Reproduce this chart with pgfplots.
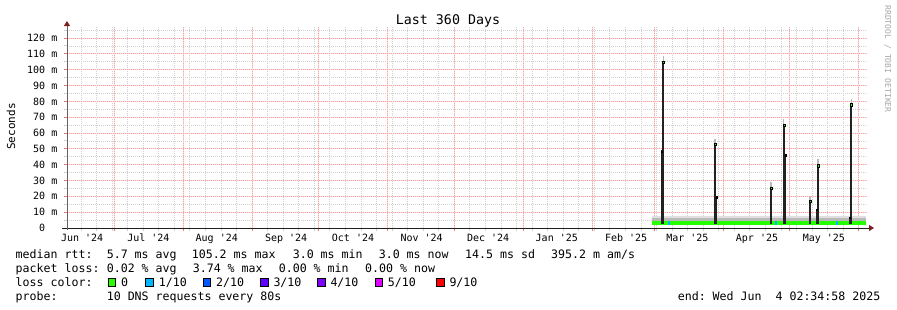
\documentclass[border=0pt]{standalone}
\usepackage{pgfplots}
\pgfplotsset{compat=1.18}
\usepackage{fontspec}
\setmonofont{DejaVu Sans Mono}
\renewcommand{\familydefault}{\ttdefault}
\usetikzlibrary{arrows.meta}
\definecolor{mgrid}{RGB}{246,165,165}
\definecolor{mgridlight}{RGB}{252,220,220}
\definecolor{mingrid}{RGB}{208,208,208}
\definecolor{mtick}{RGB}{236,120,120}
\definecolor{arrowred}{RGB}{128,31,31}
\definecolor{axiscol}{RGB}{31,31,31}
\definecolor{spike}{RGB}{34,34,34}
\definecolor{loss0}{RGB}{38,255,0}
\definecolor{loss1}{RGB}{0,184,255}
\definecolor{loss2}{RGB}{0,89,255}
\definecolor{loss3}{RGB}{94,0,255}
\definecolor{loss4}{RGB}{126,0,255}
\definecolor{loss5}{RGB}{221,0,255}
\definecolor{loss9}{RGB}{255,0,0}
\newcommand{\lgfont}{\fontsize{11.6bp}{13bp}\selectfont}
\newcommand{\tkfont}{\fontsize{10bp}{12bp}\selectfont}
\begin{document}
\frenchspacing
\begin{tikzpicture}
\path (0bp,0bp) rectangle (897bp,-310bp);
\begin{axis}[
  at={(67bp,-228bp)}, anchor=south west,
  scale only axis, width=800bp, height=201bp,
  xmin=0.1, xmax=360.1, ymin=0, ymax=127,
  axis x line=bottom, axis y line=left,
  x axis line style={axiscol, line width=1bp, shorten <=-4.5bp, shorten >=-7bp,
    -{Triangle[length=5bp,width=6bp,color=arrowred,fill=arrowred]}},
  y axis line style={axiscol!70, line width=1bp, shorten <=-2bp, shorten >=-6bp,
    -{Triangle[length=5bp,width=6bp,color=arrowred,fill=arrowred]}},
  xtick={21.4,52.4,83.4,113.4,144.4,174.4,205.4,236.4,264.4,295.4,325.4,356.4},
  xticklabels={},
  minor xtick={6.4,13.4,...,357},
  extra x ticks={6.9,36.7,67.5,98.7,128.8,159.7,189.6,220.5,251.7,279.3,310.6,340.7},
  extra x tick labels={Jun '24,Jul '24,Aug '24,Sep '24,Oct '24,Nov '24,Dec '24,Jan '25,Feb '25,Mar '25,Apr '25,May '25},
  extra x tick style={grid=none, major tick length=0pt},
  ytick={0,10,...,120},
  yticklabels={0\phantom{ m},10 m,20 m,30 m,40 m,50 m,60 m,70 m,80 m,90 m,100 m,110 m,120 m},
  minor ytick={5,15,...,125},
  grid=both,
  grid style={line width=1bp},
  minor grid style={draw=mingrid, line width=0.8bp, dash pattern=on 1bp off 1bp},
  major grid style={draw=mgridlight, line width=1bp, solid,
    postaction={draw=mgrid, line width=1bp, dash pattern=on 1bp off 1bp}},
  tick align=outside, major tick length=2.5bp, minor tick length=2.5bp,
  major tick style={draw=mtick, line width=1bp},
  minor tick style={draw=mingrid, line width=1bp},
  xticklabel style={font=\tkfont, anchor=base, inner sep=0pt, yshift=-13bp},
  yticklabel style={font=\tkfont, anchor=east, inner sep=0pt, xshift=-7bp},
]
% smoke band
\addplot[draw=none, fill=gray!25] coordinates {(263.2,3.8) (263.2,7.6) (359.5,7.6) (359.5,3.8)} -- cycle;
\addplot[draw=none, fill=gray!55] coordinates {(263.2,3.8) (263.2,6.2) (359.5,6.2) (359.5,3.8)} -- cycle;
% median, loss 0
\addplot[draw=none, fill=loss0] coordinates {(263.2,2.2) (263.2,4.3) (359.5,4.3) (359.5,2.2)} -- cycle;
% small loss 1/10 parts
\addplot[draw=none, fill=loss1] coordinates {(270.6,2.2) (270.6,4.3) (271.5,4.3) (271.5,2.2)} -- cycle;
\addplot[draw=none, fill=loss1] coordinates {(318.8,2.2) (318.8,4.3) (319.7,4.3) (319.7,2.2)} -- cycle;
\addplot[draw=none, fill=loss1] coordinates {(346.2,2.2) (346.2,4.3) (347.1,4.3) (347.1,2.2)} -- cycle;
% smoke tips above spikes
\addplot[gray!55, line width=1.2bp, unbounded coords=jump] coordinates {
 (268.4,105) (268.4,108.5) (268.4,nan)
 (291.7,53) (291.7,56.5) (291.7,nan)
 (316.9,25.5) (316.9,29) (316.9,nan)
 (322.7,65.5) (322.7,69) (322.7,nan)
 (334.45,17) (334.45,20.5) (334.45,nan)
 (338.05,40) (338.05,43.5) (338.05,nan)
 (353.1,78) (353.1,81.5)};
% thick spikes
\addplot[spike, line width=2bp, unbounded coords=jump] coordinates {
 (268.4,2.4) (268.4,105.5) (268.4,nan)
 (291.7,2.4) (291.7,53.6) (291.7,nan)
 (316.9,2.4) (316.9,26) (316.9,nan)
 (322.7,2.4) (322.7,66) (322.7,nan)
 (334.45,2.4) (334.45,17.7) (334.45,nan)
 (338.05,2.4) (338.05,40.3) (338.05,nan)
 (353.1,2.4) (353.1,78.8)};
% thin spikes
\addplot[spike, line width=1bp, unbounded coords=jump] coordinates {
 (267.6,2.4) (267.6,49) (267.6,nan)
 (292.4,2.4) (292.4,20) (292.4,nan)
 (323.4,2.4) (323.4,46.6) (323.4,nan)
 (337.4,2.4) (337.4,12) (337.4,nan)
 (352.2,2.4) (352.2,7.2)};
% median marks at the tops
\addplot[only marks, mark=square*, mark size=1.1bp, mark options={draw=none, fill=loss0}] coordinates {
 (268.4,104.6) (291.7,52.7) (316.9,25.1) (322.7,65.1) (334.45,16.8) (338.05,39.4) (353.1,77.9)};
\addplot[only marks, mark=square*, mark size=0.7bp, mark options={draw=none, fill=loss0}] coordinates {
 (267.6,48.4) (292.4,19.4) (323.4,46) (337.4,11.4) (352.2,6.6)};
\end{axis}
% title and labels
\node[font=\fontsize{13.3bp}{15bp}\selectfont, anchor=base, inner sep=0pt] at (448bp,-24bp) {Last 360 Days};
\node[font=\fontsize{11bp}{13bp}\selectfont, rotate=90, anchor=base, inner sep=0pt] at (15bp,-126.5bp) {Seconds};
\node[font=\fontsize{8.1bp}{10bp}\selectfont, text=black!35, rotate=-90, anchor=base, inner sep=0pt] at (885bp,-59bp) {RRDTOOL / TOBI OETIKER};
% legend
\begin{scope}[every node/.style={font=\lgfont, anchor=base west, inner sep=0pt}]
\node at (15.5bp,-258.5bp) {median rtt:};
\node at (106.6bp,-258.5bp) {5.7 ms avg};
\node at (191.6bp,-258.5bp) {105.2 ms max};
\node at (292.6bp,-258.5bp) {3.0 ms min};
\node at (378.6bp,-258.5bp) {3.0 ms now};
\node at (465bp,-258.5bp) {14.5 ms sd};
\node at (551bp,-258.5bp) {395.2 m am/s};
\node at (15.5bp,-272.5bp) {packet loss:};
\node at (106.6bp,-272.5bp) {0.02 \% avg};
\node at (192.6bp,-272.5bp) {3.74 \% max};
\node at (278.6bp,-272.5bp) {0.00 \% min};
\node at (365bp,-272.5bp) {0.00 \% now};
\node at (15.5bp,-286.5bp) {loss color:};
\node at (120.8bp,-286.5bp) {0};
\node at (158.6bp,-286.5bp) {1/10};
\node at (216bp,-286.5bp) {2/10};
\node at (273.3bp,-286.5bp) {3/10};
\node at (330.3bp,-286.5bp) {4/10};
\node at (387.6bp,-286.5bp) {5/10};
\node at (449.3bp,-286.5bp) {9/10};
\node at (15.5bp,-300.5bp) {probe:};
\node at (106.6bp,-300.5bp) {10 DNS requests every 80s};
\node at (677.6bp,-300.5bp) {end: Wed Jun~~4 02:34:58 2025};
\end{scope}
% loss colour boxes
\foreach \xx/\cc in {108/loss0,145.7/loss1,203.3/loss2,260.7/loss3,317.7/loss4,375/loss5,436.7/loss9}{
  \draw[fill=\cc, draw=black, line width=0.8bp] (\xx bp,-278.8bp) rectangle (\xx bp+7.4bp,-286.1bp);
}
\pgfresetboundingbox
\useasboundingbox (0bp,0bp) rectangle (897bp,-310bp);
\end{tikzpicture}
\end{document}
